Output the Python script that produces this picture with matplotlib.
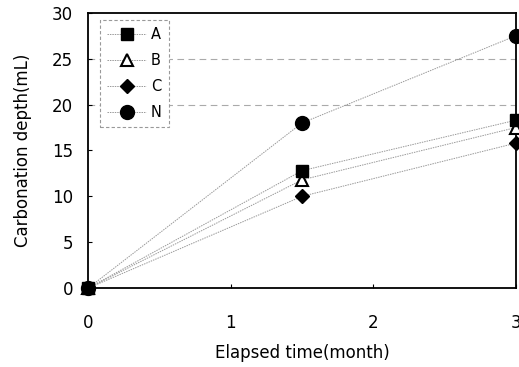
import matplotlib
matplotlib.use("Agg")
import matplotlib.pyplot as plt

months = [0, 1.5, 3]
series_names = ["A", "B", "C", "N"]
values_A = [0, 12.8, 18.3]
values_B = [0, 11.8, 17.5]
values_C = [0, 10.0, 15.8]
values_N = [0, 18.0, 27.5]
xticks = [0, 1, 2, 3]
yticks = [0, 5, 10, 15, 20, 25, 30]

plt.rcParams['font.family'] = ['DejaVu Sans']
fig = plt.figure(figsize=(5.19, 3.67), dpi=100)
ax = fig.add_axes([0.170, 0.215, 0.824, 0.750])

styles = {
    "A": dict(marker="s", mfc="black", mec="black", ms=9),
    "B": dict(marker="^", mfc="white", mec="black", ms=9, mew=1.5),
    "C": dict(marker="D", mfc="black", mec="black", ms=7),
    "N": dict(marker="o", mfc="black", mec="black", ms=10),
}
data = {"A": values_A, "B": values_B, "C": values_C, "N": values_N}
for name in ["N", "C", "B", "A"]:
    ax.plot(months, data[name], color="#999999", lw=0.7, ls=(0, (1.5, 1)),
            clip_on=False, zorder=3, label=name, **styles[name])

for y in [20, 25]:
    ax.axhline(y, color="#aaaaaa", lw=0.8, ls=(0, (6, 4)), zorder=1)

ax.set_xlim(0, 3)
ax.set_ylim(0, 30)
ax.set_xticks(xticks)
ax.set_yticks(yticks)
ax.tick_params(axis="x", direction="in", length=3, labelsize=12, pad=19)
ax.tick_params(axis="y", direction="in", length=3, labelsize=12, pad=11)
for s in ax.spines.values():
    s.set_linewidth(1.3)
ax.set_xlabel("Elapsed time(month)", fontsize=12, labelpad=8)
ax.set_ylabel("Carbonation depth(mL)", fontsize=12, labelpad=14)

handles, labels = ax.get_legend_handles_labels()
order = [labels.index(n) for n in series_names]
leg = ax.legend([handles[i] for i in order], [labels[i] for i in order],
                loc="upper left", bbox_to_anchor=(0.02, 0.985), fontsize=10.5,
                handlelength=2.7, handletextpad=0.3, labelspacing=0.75,
                borderpad=0.5, borderaxespad=0.2,
                fancybox=False, framealpha=1, edgecolor="#999999")
leg.get_frame().set_linestyle((0, (3, 2)))
leg.get_frame().set_linewidth(0.8)
leg.set_zorder(5)

fig.savefig("out.png", dpi=100)
